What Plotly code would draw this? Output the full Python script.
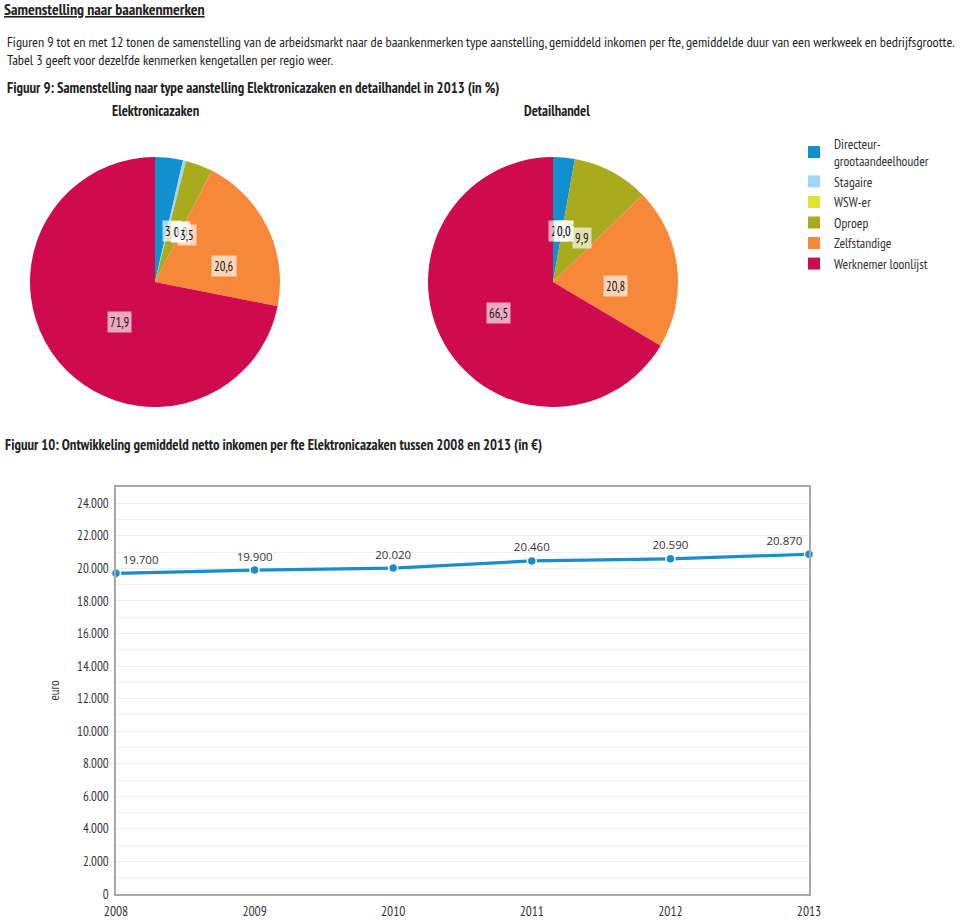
import math
import plotly.graph_objects as go

# ---------------- data ----------------
categories = ["Directeur-<br>grootaandeelhouder", "Stagaire", "WSW-er", "Oproep",
              "Zelfstandige", "Werknemer loonlijst"]
elektronica_values = [3.6, 0.4, 0.0, 3.5, 20.6, 71.9]
detailhandel_values = [2.8, 0.0, 0.0, 9.9, 20.8, 66.5]
slice_colors = ["#1190d0", "#9fd8f6", "#e0e22c", "#a9ab1e", "#f7883a", "#cf0a4d"]

years = [2008, 2009, 2010, 2011, 2012, 2013]
income = [19700, 19900, 20020, 20460, 20590, 20870]
y_tick_values = list(range(0, 26000, 2000))

W, H = 960, 922
FONT = "Liberation Sans Narrow, PT Sans Narrow, Arial Narrow, sans-serif"
TXT = "#222222"


def px(x):
    return x / W


def py(y):
    return 1 - y / H


fig = go.Figure()

# pie geometry (pixels)
pies = [
    ("Elektronicazaken", elektronica_values, 30, 280, 157, 407),
    ("Detailhandel", detailhandel_values, 428, 678, 157, 407),
]

annotations = []
for i, (name, vals, x0, x1, y0, y1) in enumerate(pies):
    fig.add_trace(go.Pie(
        labels=categories, values=vals, name=name,
        marker=dict(colors=slice_colors, line=dict(width=0)),
        sort=False, direction="clockwise", rotation=0,
        textinfo="none", hoverinfo="label+value",
        domain=dict(x=[px(x0), px(x1)], y=[py(y1), py(y0)]),
        showlegend=(i == 0),
    ))
    # value labels at half radius on the slice's mid angle
    cx, cy = (x0 + x1) / 2, (y0 + y1) / 2
    R = min(x1 - x0, y1 - y0) / 2
    total = sum(vals)
    cum = 0.0
    for v in vals:
        mid = (cum + v / 2) / total * 2 * math.pi
        cum += v
        lx = cx + 0.5 * R * math.sin(mid)
        ly = cy - 0.5 * R * math.cos(mid)
        annotations.append(dict(
            x=px(lx), y=py(ly), xref="paper", yref="paper",
            text=f"{v:.1f}".replace(".", ","), showarrow=False,
            font=dict(family=FONT, size=12.5, color="#111111"),
            bgcolor="rgba(255,255,255,0.65)", borderpad=2,
        ))

# line chart
fig.add_trace(go.Scatter(
    x=years, y=income, mode="lines+markers+text",
    line=dict(color="#1c8dcb", width=3.2),
    marker=dict(size=9, color="#1c8dcb", line=dict(color="white", width=1.5)),
    text=[f"{v:,}".replace(",", ".") for v in income],
    textposition=["top right", "top center", "top center", "top center",
                  "top center", "top left"],
    textfont=dict(family="Open Sans, sans-serif", size=11.5, color="#333333"),
    cliponaxis=False, showlegend=False, hoverinfo="x+y",
    xaxis="x", yaxis="y",
))

# text blocks
texts = [
    ("<b><u>Samenstelling naar baankenmerken</u></b>", 2, 9, 15.8, "left"),
    ("Figuren 9 tot en met 12 tonen de samenstelling van de arbeidsmarkt naar de baankenmerken "
     "type aanstelling, gemiddeld inkomen per fte, gemiddelde duur van een werkweek en bedrijfsgrootte.",
     5, 42, 14.2, "left"),
    ("Tabel 3 geeft voor dezelfde kenmerken kengetallen per regio weer.", 5, 60, 14.2, "left"),
    ("<b>Figuur 9: Samenstelling naar type aanstelling Elektronicazaken en detailhandel in 2013 (in %)</b>",
     5, 88, 14.7, "left"),
    ("<b>Elektronicazaken</b>", 155, 111, 14.4, "center"),
    ("<b>Detailhandel</b>", 557, 111, 14.4, "center"),
    ("<b>Figuur 10: Ontwikkeling gemiddeld netto inkomen per fte Elektronicazaken tussen 2008 en 2013 (in €)</b>",
     3, 444, 14.65, "left"),
]
for t, x, y, s, a in texts:
    annotations.append(dict(
        x=px(x), y=py(y), xref="paper", yref="paper", text=t, showarrow=False,
        xanchor=a, yanchor="middle", font=dict(family=FONT, size=s, color=TXT),
    ))

fig.update_layout(
    width=W, height=H, margin=dict(l=0, r=0, t=0, b=0, autoexpand=False),
    paper_bgcolor="white", plot_bgcolor="white",
    separators=",.",
    font=dict(family=FONT, color=TXT),
    annotations=annotations,
    legend=dict(
        x=px(794), y=py(128), xanchor="left", yanchor="top",
        font=dict(family=FONT, size=13.5, color="#333333"),
        traceorder="normal", itemsizing="constant",
        bgcolor="rgba(0,0,0,0)",
    ),
    xaxis=dict(
        domain=[px(116), px(809)], range=[2008, 2013], anchor="y",
        tickvals=years, ticktext=[str(y) for y in years],
        showgrid=False, zeroline=False, showline=True, linecolor="#a9a9a9",
        linewidth=1.5, mirror=True, ticks="", ticklabelstandoff=4,
        tickfont=dict(family=FONT, size=13.5, color="#333333"),
    ),
    yaxis=dict(
        domain=[py(894), py(487)], range=[0, 25000], anchor="x",
        tickvals=y_tick_values, tickformat=",d",
        showgrid=True, gridcolor="#e8eef2", zeroline=False,
        minor=dict(dtick=1000, showgrid=True, gridcolor="#eef3f6"),
        showline=True, linecolor="#a9a9a9", linewidth=1.5, mirror=True,
        ticks="", ticklabelstandoff=3,
        tickfont=dict(family=FONT, size=13, color="#333333"),
        title=dict(text="euro", font=dict(family=FONT, size=13, color="#333333"),
                   standoff=15),
    ),
)

fig.write_html("out.html")
